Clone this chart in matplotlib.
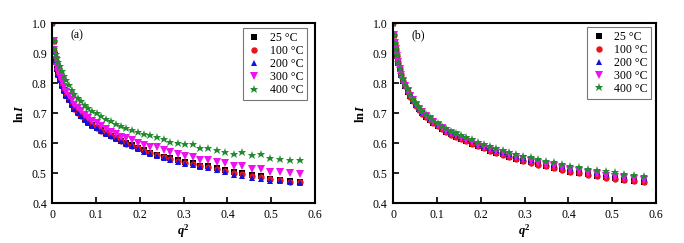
import matplotlib
matplotlib.use('Agg')
import matplotlib.pyplot as plt

# panel (a) data
xa = [0, 0.0030, 0.0049, 0.0073, 0.0102, 0.0136, 0.0174, 0.0218, 0.0266, 0.0319,
      0.0376, 0.0439, 0.0506, 0.0578, 0.0655, 0.0737, 0.0824, 0.0915, 0.1011, 0.1112,
      0.1218, 0.1329, 0.1444, 0.1564, 0.1689, 0.1819, 0.1954, 0.2093, 0.2237, 0.2386,
      0.2540, 0.2699, 0.2862, 0.3031, 0.3204, 0.3381, 0.3564, 0.3752, 0.3944, 0.4141,
      0.4343, 0.4550, 0.4761, 0.4977, 0.5198, 0.5424, 0.5655]
ya_25 = [1.0, .94, .907, .874, .848, .830, .813, .794, .777, .761,
         .747, .731, .715, .703, .692, .681, .671, .661, .652, .643,
         .634, .625, .617, .609, .601, .594, .585, .577, .569, .562,
         .556, .550, .544, .537, .533, .526, .523, .517, .511, .503,
         .501, .494, .490, .482, .478, .473, .472]
ya_100 = [1.0, .94, .906, .873, .847, .829, .812, .793, .776, .760,
          .746, .730, .714, .702, .691, .680, .670, .660, .651, .642,
          .633, .624, .616, .607, .599, .592, .583, .575, .567, .560,
          .554, .548, .542, .535, .531, .524, .521, .514, .508, .501,
          .498, .491, .487, .481, .477, .472, .471]
ya_200 = [1.0, .94, .905, .872, .846, .828, .811, .792, .775, .759,
          .745, .729, .713, .701, .690, .679, .669, .659, .650, .641,
          .632, .623, .614, .606, .598, .590, .581, .572, .564, .557,
          .551, .545, .539, .532, .528, .521, .518, .511, .505, .496,
          .491, .484, .480, .476, .474, .471, .469]
ya_300 = [1.0, .94, .91, .878, .853, .836, .820, .803, .787, .772,
          .758, .744, .729, .717, .706, .695, .685, .675, .666, .657,
          .648, .639, .630, .622, .616, .610, .602, .594, .588, .588,
          .578, .570, .565, .557, .556, .546, .543, .538, .533, .524,
          .524, .513, .516, .505, .505, .500, .498]
ya_400 = [1.0, .94, .915, .898, .884, .870, .856, .840, .825, .809,
          .794, .778, .764, .752, .740, .729, .719, .709, .700, .691,
          .682, .673, .665, .657, .651, .645, .637, .632, .626, .620,
          .615, .605, .602, .596, .596, .584, .583, .579, .572, .564,
          .570, .561, .564, .551, .547, .545, .544]

# panel (b) data
xb = [0, 0.0021, 0.0037, 0.0057, 0.0083, 0.0112, 0.0147, 0.0186, 0.0229, 0.0277,
      0.0330, 0.0387, 0.0449, 0.0516, 0.0587, 0.0662, 0.0743, 0.0828, 0.0917, 0.1011,
      0.1109, 0.1213, 0.1320, 0.1433, 0.1550, 0.1671, 0.1797, 0.1928, 0.2063, 0.2203,
      0.2347, 0.2496, 0.2650, 0.2808, 0.2971, 0.3138, 0.3310, 0.3486, 0.3668, 0.3853,
      0.4043, 0.4238, 0.4438, 0.4642, 0.4850, 0.5064, 0.5281, 0.5504, 0.5731]
yb_25 = [1.0, .96, .933, .912, .889, .867, .846, .826, .806, .789,
         .772, .756, .741, .726, .713, .700, .689, .678, .668, .658,
         .648, .639, .630, .622, .614, .607, .599, .591, .584, .576,
         .569, .563, .556, .549, .542, .537, .530, .524, .519, .513,
         .506, .502, .497, .492, .487, .483, .478, .475, .472]
yb_100 = [1.0, .96, .933, .912, .889, .867, .846, .826, .806, .789,
          .772, .755, .740, .725, .712, .699, .688, .677, .667, .657,
          .647, .638, .629, .621, .613, .606, .598, .590, .583, .575,
          .568, .562, .555, .548, .541, .536, .529, .523, .518, .512,
          .505, .501, .496, .491, .486, .482, .477, .474, .471]
yb_200 = [1.0, .96, .934, .914, .891, .870, .849, .829, .810, .793,
          .776, .760, .745, .731, .718, .705, .694, .684, .674, .664,
          .654, .645, .637, .629, .621, .614, .606, .598, .591, .584,
          .577, .571, .564, .557, .551, .546, .540, .534, .529, .523,
          .517, .513, .508, .503, .498, .494, .490, .487, .484]
yb_300 = [1.0, .96, .934, .913, .890, .869, .848, .828, .808, .791,
          .774, .758, .743, .728, .715, .703, .692, .681, .671, .661,
          .651, .642, .634, .626, .618, .611, .603, .595, .588, .580,
          .573, .567, .560, .553, .547, .542, .535, .529, .524, .518,
          .511, .507, .502, .497, .492, .488, .484, .481, .479]
yb_400 = [1.0, .96, .935, .915, .893, .872, .852, .832, .813, .796,
          .779, .763, .748, .734, .721, .709, .698, .688, .678, .668,
          .659, .650, .642, .634, .627, .620, .613, .605, .598, .591,
          .584, .578, .572, .565, .559, .554, .548, .542, .537, .531,
          .525, .521, .516, .512, .507, .503, .498, .495, .492]

labels = ['25 \u00b0C', '100 \u00b0C', '200 \u00b0C', '300 \u00b0C', '400 \u00b0C']
markers = ['s', 'o', '^', 'v', '*']
colors = ['#000000', '#e8141c', '#1010e0', '#f010f0', '#228b30']
sizes = [4.2, 4.6, 4.9, 5.1, 6.3]

plt.rcParams['font.family'] = ['Liberation Serif', 'DejaVu Serif']
plt.rcParams['mathtext.fontset'] = 'custom'
plt.rcParams['mathtext.rm'] = 'Liberation Serif'
plt.rcParams['mathtext.it'] = 'Liberation Serif:italic'
plt.rcParams['mathtext.bf'] = 'Liberation Serif:bold'
plt.rcParams['mathtext.bfit'] = 'Liberation Serif:italic:bold'


def draw_panel(ax, x, ys, tag, anchor):
    for y, lab, m, c, s in zip(ys, labels, markers, colors, sizes):
        ax.plot(x, y, linestyle='none', marker=m, color=c, markersize=s,
                markeredgewidth=0, label=lab)
    ax.set_xlim(0, 0.6)
    ax.set_ylim(0.4, 1.0)
    ax.set_xticks([0, 0.1, 0.2, 0.3, 0.4, 0.5, 0.6])
    ax.set_xticklabels(['0', '0.1', '0.2', '0.3', '0.4', '0.5', '0.6'])
    ax.set_yticks([0.4, 0.5, 0.6, 0.7, 0.8, 0.9, 1.0])
    ax.tick_params(direction='in', length=4, width=1.2, labelsize=8.5, pad=4)
    for sp in ax.spines.values():
        sp.set_linewidth(1.5)
    ax.set_xlabel(r'$\mathbfit{q}^{\mathbf{2}}$', fontsize=9, labelpad=1)
    ax.set_ylabel(r'$\mathbf{ln}\,\mathbfit{I}$', fontsize=9, labelpad=4)
    ax.text(0.07, 0.93, tag, transform=ax.transAxes, fontsize=8.5,
            va='center', ha='left')
    leg = ax.legend(loc='upper right', bbox_to_anchor=anchor, fontsize=8.5,
                    numpoints=1, frameon=True, fancybox=False, borderpad=0.35,
                    labelspacing=0.08, handletextpad=0.7, handlelength=1.2,
                    borderaxespad=0)
    leg.get_frame().set_edgecolor('#555555')
    leg.get_frame().set_linewidth(0.8)


def main():
    fig = plt.figure(figsize=(6.84, 2.43), dpi=100)
    ax1 = fig.add_axes([0.0765, 0.163, 0.384, 0.742])
    ax2 = fig.add_axes([0.575, 0.163, 0.384, 0.742])
    draw_panel(ax1, xa, [ya_25, ya_100, ya_200, ya_300, ya_400], '(a)', (0.971, 0.974))
    draw_panel(ax2, xb, [yb_25, yb_100, yb_200, yb_300, yb_400], '(b)', (0.983, 0.98))
    fig.savefig('out.png', dpi=100)


if __name__ == "__main__":
    main()
